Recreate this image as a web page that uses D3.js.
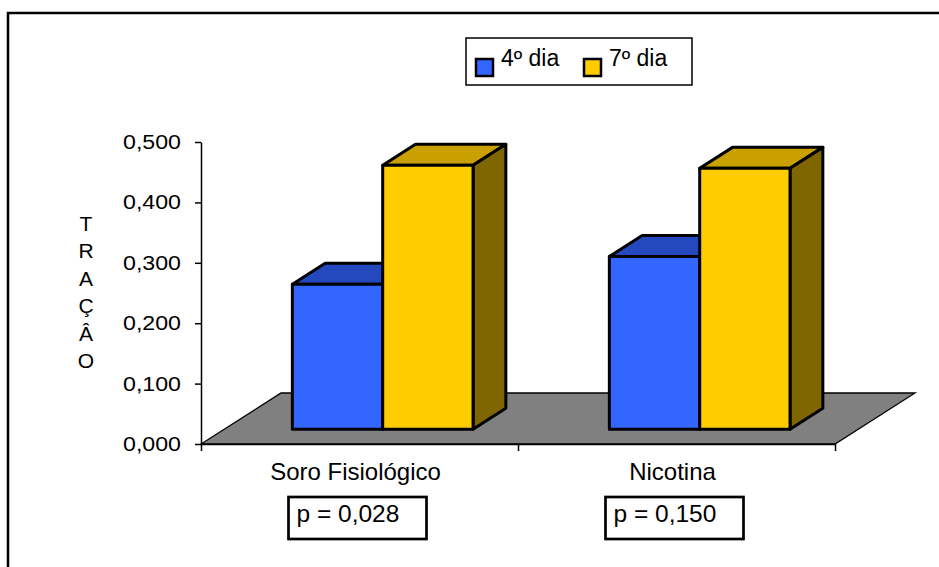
<!DOCTYPE html>
<html>
  <head>
  <meta charset="utf-8">
  <title>Tração</title>
  </head>
  <body>
  <style>
    body, html {
      margin: 0;
      padding: 0;
      background: #fff;
    }
    svg text {
      font-family: 'Liberation Sans', Arial, sans-serif;
      fill: #000;
    }
  </style>

  <svg id="svg" width="939" height="567"></svg>

  <script src="https://cdn.jsdelivr.net/npm/d3@7"></script>
  <script>
    // values
    const categories = ['Soro Fisiológico', 'Nicotina']
    const series = ['4º dia', '7º dia']
    const dia4 = [0.240, 0.286]
    const dia7 = [0.437, 0.432]
    const pValues = ['p = 0,028', 'p = 0,150']
    const yTicks = [0, 0.1, 0.2, 0.3, 0.4, 0.5]
    const axisTitle = 'TRAÇÂO'

    const colors = {
      '4º dia': { front: '#3366FF', top: '#2449BF', side: '#1A3380' },
      '7º dia': { front: '#FFCC00', top: '#C9A000', side: '#806600' }
    }

    const svg = d3.select('#svg')
    const plotLeft = 201
    const plotRight = 835
    const plotBottom = 444
    const plotTop = 142
    // depth of the floor and position of the bars inside it
    const floorDx = 80, floorDy = -51
    const barFront = 0.29, barBack = 0.70

    const yScale = d3.scaleLinear().domain([0, 0.5]).range([plotBottom, plotTop])
    const xScale = d3.scaleBand().domain(categories).range([plotLeft, plotRight])
    const xEdge = d3.scaleLinear().domain([0, categories.length]).range([plotLeft, plotRight])
    const bw = xScale.bandwidth()
    const xInner = d3.scaleBand().domain(series).range([bw * 0.215, bw * 0.785])

    // frame of the chart area
    svg.append('path')
      .attr('d', 'M8,567V13H939')
      .attr('fill', 'none')
      .attr('stroke', '#000')
      .attr('stroke-width', 2.5)

    // floor
    svg.append('polygon')
      .attr('points', [
        [plotLeft, plotBottom], [plotRight, plotBottom],
        [plotRight + floorDx, plotBottom + floorDy], [plotLeft + floorDx, plotBottom + floorDy]
      ].map(p => p.join(',')).join(' '))
      .attr('fill', '#808080')
      .attr('stroke', '#000')
      .attr('stroke-width', 1.3)

    // axes
    const leftAxis = d3.axisLeft(yScale)
      .tickValues(yTicks)
      .tickSize(6)
      .tickSizeOuter(0)
      .tickPadding(14)
      .tickFormat(d => d3.format('.3f')(d).replace('.', ','))
    const yAxis = svg.append('g')
      .attr('transform', `translate(${plotLeft}, 0)`)
      .call(leftAxis)
    yAxis.selectAll('path, line').attr('stroke', '#000').attr('stroke-width', 1.5)
    yAxis.selectAll('text')
      .attr('font-size', 20)
      .attr('textLength', 58)
      .attr('lengthAdjust', 'spacingAndGlyphs')
      .style('font-family', "'Liberation Sans', Arial, sans-serif")

    const bottomAxis = d3.axisBottom(xEdge)
      .tickValues(d3.range(categories.length + 1))
      .tickSize(7)
      .tickSizeOuter(0)
      .tickFormat('')
    const xAxis = svg.append('g')
      .attr('transform', `translate(0, ${plotBottom})`)
      .call(bottomAxis)
    xAxis.selectAll('path, line').attr('stroke', '#000').attr('stroke-width', 1.5)

    // 3d bars
    const fx = floorDx * barFront, fy = floorDy * barFront
    const bx = floorDx * barBack, by = floorDy * barBack
    const bars = []
    categories.forEach((c, i) => {
      bars.push({ cat: c, s: series[0], v: dia4[i] })
      bars.push({ cat: c, s: series[1], v: dia7[i] })
    })

    const pts = arr => arr.map(p => p.join(',')).join(' ')
    const barG = svg.append('g')
    bars.forEach(d => {
      const x0 = xScale(d.cat) + xInner(d.s)
      const x1 = x0 + xInner.bandwidth()
      const yt = yScale(d.v)
      const y0 = yScale(0)
      const g = barG.append('g')
        .attr('stroke', '#000')
        .attr('stroke-width', 3)
        .attr('stroke-linejoin', 'round')
      g.append('polygon')
        .attr('points', pts([[x0 + fx, yt + fy], [x1 + fx, yt + fy], [x1 + bx, yt + by], [x0 + bx, yt + by]]))
        .attr('fill', colors[d.s].top)
      g.append('polygon')
        .attr('points', pts([[x1 + fx, yt + fy], [x1 + bx, yt + by], [x1 + bx, y0 + by], [x1 + fx, y0 + fy]]))
        .attr('fill', colors[d.s].side)
      g.append('rect')
        .attr('x', x0 + fx)
        .attr('y', yt + fy)
        .attr('width', x1 - x0)
        .attr('height', y0 - yt)
        .attr('fill', colors[d.s].front)
    })

    // category labels
    svg.selectAll('.cat')
      .data(categories)
      .join('text')
      .attr('class', 'cat')
      .attr('x', d => xScale(d) + bw / 2 - 4)
      .attr('y', 480)
      .attr('text-anchor', 'middle')
      .attr('font-size', 24)
      .text(d => d)

    // p value boxes
    const boxW = 138, boxH = 42
    const pBox = svg.selectAll('.pbox')
      .data(categories)
      .join('g')
      .attr('class', 'pbox')
      .attr('transform', d => `translate(${xScale(d) + bw / 2 - boxW / 2 - 2}, 497)`)
    pBox.append('rect')
      .attr('width', boxW)
      .attr('height', boxH)
      .attr('fill', '#fff')
      .attr('stroke', '#000')
      .attr('stroke-width', 2.7)
    pBox.append('text')
      .attr('x', 8)
      .attr('y', 25)
      .attr('font-size', 24.5)
      .text((d, i) => pValues[i])

    // y axis title, one letter per line
    const title = svg.append('text')
      .attr('text-anchor', 'middle')
      .attr('font-size', 21)
    title.selectAll('tspan')
      .data(axisTitle.split(''))
      .join('tspan')
      .attr('x', 86)
      .attr('y', (d, i) => 231 + i * 27.4)
      .text(d => d)

    // legend
    const legend = svg.append('g')
      .attr('transform', 'translate(466, 38)')
    legend.append('rect')
      .attr('width', 226)
      .attr('height', 47)
      .attr('fill', '#fff')
      .attr('stroke', '#000')
      .attr('stroke-width', 1.5)
    const legX = [10, 118]
    series.forEach((s, i) => {
      legend.append('rect')
        .attr('x', legX[i])
        .attr('y', 21)
        .attr('width', 17)
        .attr('height', 17)
        .attr('fill', colors[s].front)
        .attr('stroke', '#000')
        .attr('stroke-width', 2.5)
      legend.append('text')
        .attr('x', legX[i] + 25)
        .attr('y', 28)
        .attr('font-size', 23)
        .text(s)
    })
  </script>
  </body>
</html>
